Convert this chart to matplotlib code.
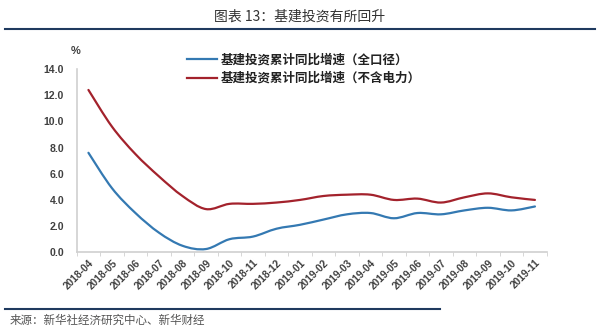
import numpy as np
import matplotlib
matplotlib.use("Agg")
import matplotlib.pyplot as plt
from matplotlib.path import Path
from matplotlib.patches import PathPatch
from matplotlib.lines import Line2D

plt.rcParams['font.family'] = ['Noto Sans CJK SC', 'DejaVu Sans']

# ── Data ──────────────────────────────────────────────────────────────────────
months = ["2018-04", "2018-05", "2018-06", "2018-07", "2018-08", "2018-09",
          "2018-10", "2018-11", "2018-12", "2019-01", "2019-02", "2019-03",
          "2019-04", "2019-05", "2019-06", "2019-07", "2019-08", "2019-09",
          "2019-10", "2019-11"]
infra_all = [7.6, 4.9, 3.0, 1.5, 0.5, 0.25, 1.0, 1.2, 1.8, 2.1, 2.5, 2.9,
             3.0, 2.6, 3.0, 2.9, 3.2, 3.4, 3.2, 3.5]
infra_ex_power = [12.4, 9.6, 7.5, 5.8, 4.3, 3.3, 3.7, 3.7, 3.8, 4.0, 4.3, 4.4,
                  4.4, 4.0, 4.1, 3.8, 4.2, 4.5, 4.2, 4.0]
series_labels = ["基建投资累计同比增速（全口径）", "基建投资累计同比增速（不含电力）"]
yticks = [0, 2, 4, 6, 8, 10, 12, 14]

BLUE = "#3479B2"
RED = "#A3222C"
NAVY = "#1F3A5F"
GRID = "#D0D0D0"
TXT = "#404040"


def smooth_path(x, y):
    # Excel-style smoothed line: cubic Bezier through each point
    x = np.asarray(x, float)
    y = np.asarray(y, float)
    pts = np.column_stack([x, y])
    verts = [pts[0]]
    codes = [Path.MOVETO]
    n = len(pts)
    for i in range(n - 1):
        p0 = pts[i - 1] if i > 0 else pts[i]
        p1 = pts[i]
        p2 = pts[i + 1]
        p3 = pts[i + 2] if i + 2 < n else pts[i + 1]
        c1 = p1 + (p2 - p0) / 6.0
        c2 = p2 - (p3 - p1) / 6.0
        verts += [c1, c2, p2]
        codes += [Path.CURVE4] * 3
    return Path(verts, codes)


fig = plt.figure(figsize=(6.0, 3.29), dpi=100)
W, H = 600, 329
ax = fig.add_axes([76.7 / W, 1 - 252.3 / H, (546.7 - 76.7) / W, (252.3 - 69) / H])

xs = np.arange(len(months))
for vals, color in [(infra_all, BLUE), (infra_ex_power, RED)]:
    patch = PathPatch(smooth_path(xs, vals), facecolor="none", edgecolor=color,
                      lw=1.6, capstyle="round", joinstyle="round")
    ax.add_patch(patch)

ax.set_xlim(-0.5, len(months) - 0.5)
ax.set_ylim(0, 14)
ax.set_yticks(yticks)
ax.set_yticklabels([f"{v:.1f}" for v in yticks], family=['Liberation Sans'],
                   fontsize=7.6, fontweight="bold", color=TXT)
ax.set_xticks(xs)
ax.set_xticklabels(months, rotation=45, ha="right", rotation_mode="anchor",
                   family=['Liberation Sans'], fontsize=7.4, fontweight="bold",
                   color=TXT)
ax.set_xticks(np.arange(-0.5, len(months), 1.0), minor=True)
ax.tick_params(axis="x", which="major", length=0, pad=4)
ax.tick_params(axis="x", which="minor", length=3, color=GRID, direction="out")
ax.tick_params(axis="y", length=0, pad=9)

for side in ["top", "right"]:
    ax.spines[side].set_visible(False)
for side in ["left", "bottom"]:
    ax.spines[side].set_color(GRID)
    ax.spines[side].set_linewidth(1.2)

fig.text(76 / W, 1 - 51 / H, "%", family=['Liberation Sans'], fontsize=8,
         fontweight="bold", color=TXT, ha="center", va="center")

# legend
handles = [Line2D([], [], color=BLUE, lw=1.6), Line2D([], [], color=RED, lw=1.6)]
fig.legend(handles, series_labels, loc="upper left",
           bbox_to_anchor=(176 / W, 1 - 42 / H), frameon=False,
           handlelength=2.4, handletextpad=0.3,
           labelspacing=0.45, labelcolor="#222222",
           prop={'family': ['Noto Sans CJK SC', 'DejaVu Sans'], 'size': 9,
                 'weight': 'bold'})

# title, rules and source
fig.text(0.5, 1 - 17 / H, "图表 13：基建投资有所回升", ha="center", va="center",
         fontsize=10, color="#333333", fontweight="medium")
fig.add_artist(Line2D([5 / W, 595 / W], [1 - 28.5 / H, 1 - 28.5 / H],
                      color=NAVY, lw=1.5))
fig.add_artist(Line2D([5 / W, 440 / W], [1 - 309 / H, 1 - 309 / H],
                      color=NAVY, lw=1.5))
fig.text(10 / W, 1 - 320 / H, "来源：新华社经济研究中心、新华财经", ha="left",
         va="center", fontsize=8.3, color="#555555")

fig.savefig("out.png", dpi=100)
